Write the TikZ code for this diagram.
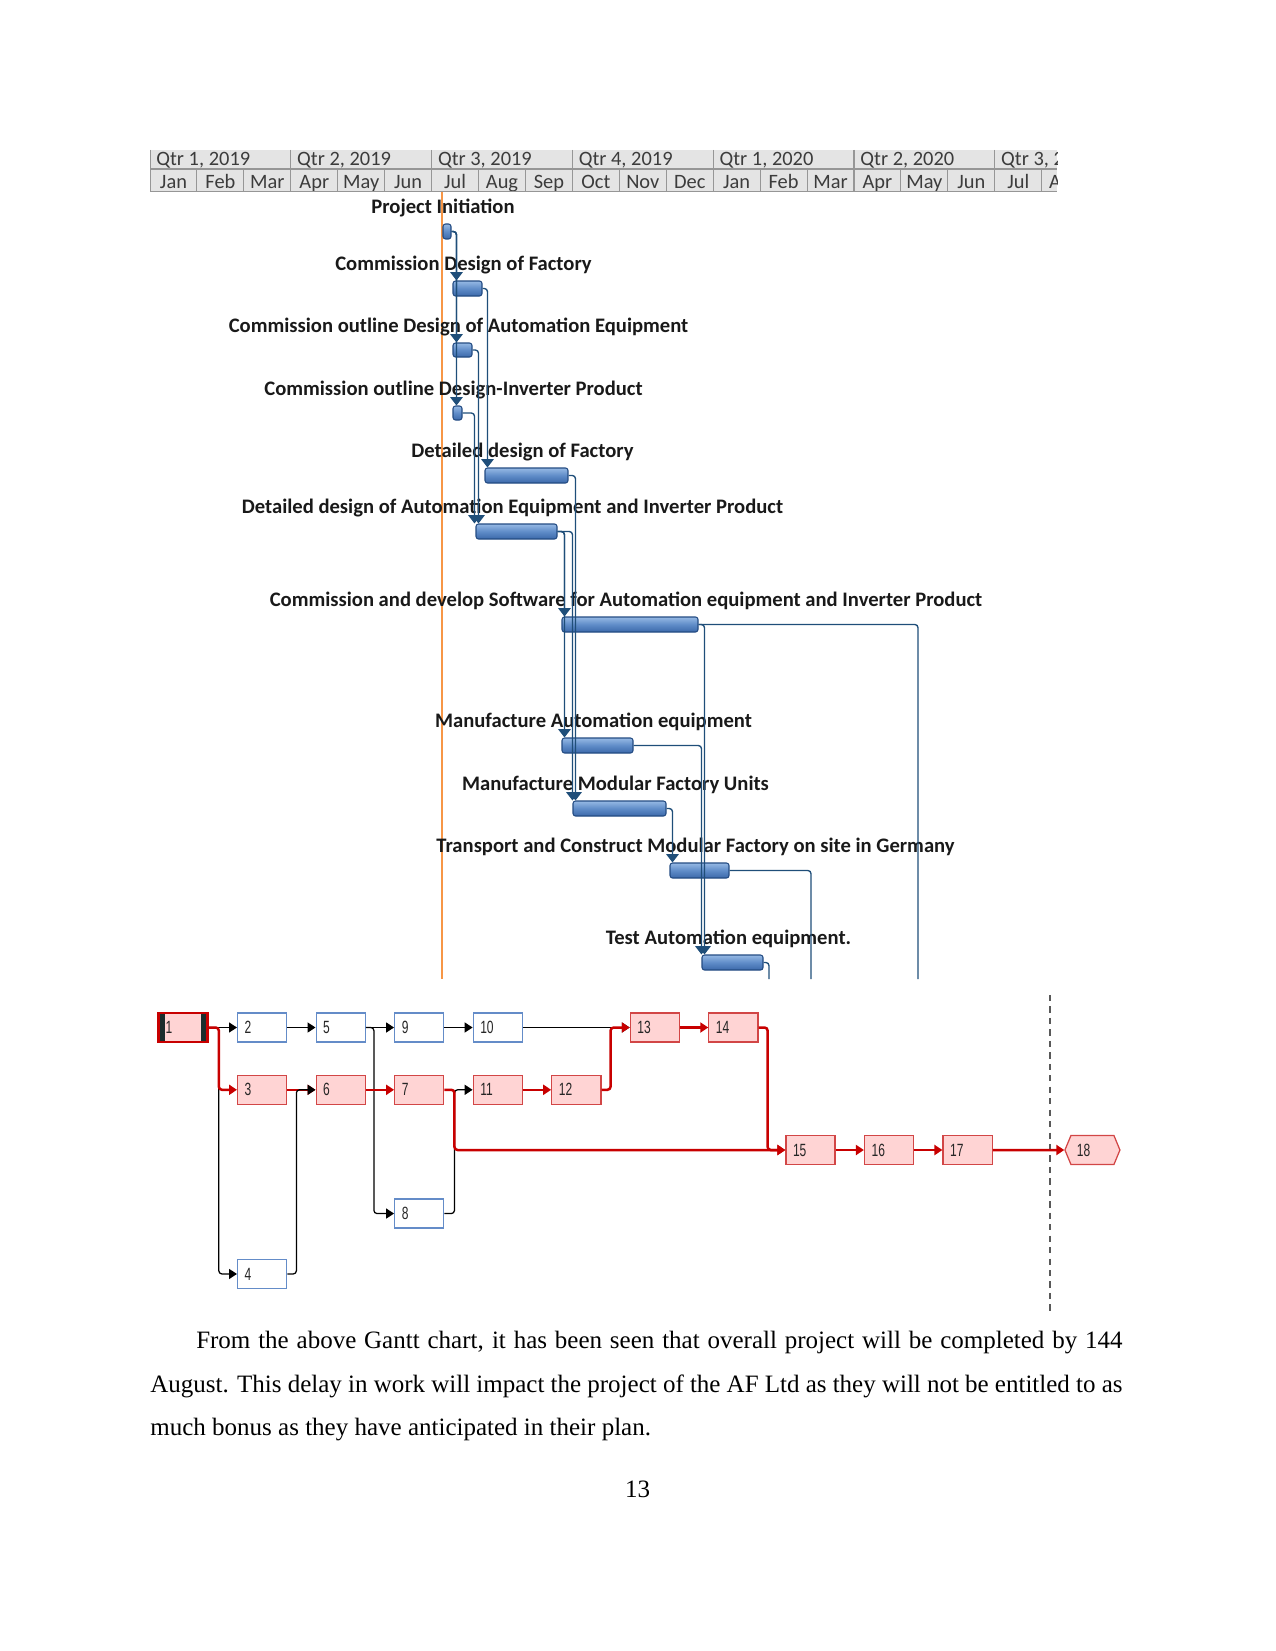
\documentclass[tikz,border=0pt]{standalone}
\usepackage{fontspec}
\setmainfont{Liberation Serif}
\newfontfamily\ganttfont{Carlito}
\newfontfamily\netfont[FakeStretch=0.68]{Liberation Sans}
\usetikzlibrary{arrows.meta, positioning, fit, calc, shapes.symbols}

\definecolor{hdrfill}{RGB}{228,228,228}
\definecolor{hdrline}{RGB}{150,150,150}
\definecolor{hdrtext}{RGB}{60,60,60}
\definecolor{bartop}{RGB}{150,185,228}
\definecolor{barmid}{RGB}{95,140,200}
\definecolor{barbot}{RGB}{60,105,170}
\definecolor{barrim}{RGB}{35,75,130}
\definecolor{linkblue}{RGB}{31,78,121}
\definecolor{todayorange}{RGB}{247,150,70}
\definecolor{critred}{RGB}{200,0,0}
\definecolor{critrim}{RGB}{210,70,70}
\definecolor{critfill}{RGB}{255,212,212}
\definecolor{netblue}{RGB}{100,140,200}
\definecolor{startdark}{RGB}{25,45,45}

\tikzset{
  hdrtxt/.style={font=\ganttfont\fontsize{9.8}{11}\selectfont, text=hdrtext, inner sep=0},
  hdrline/.style={draw=hdrline, line width=0.5pt},
  glabel/.style={font=\ganttfont\bfseries\fontsize{9.9}{11}\selectfont, text=black!90, inner sep=0},
  gbar/.style={
    draw=barrim, line width=0.5pt, rounded corners=1.2pt,
    top color=bartop, bottom color=barbot, middle color=barmid, inner sep=0
  },
  glink/.style={draw=linkblue, line width=0.65pt, rounded corners=1.5pt, -{Triangle[width=6pt,length=4pt]}},
  gcut/.style={draw=linkblue, line width=0.65pt, rounded corners=1.5pt},
  todayline/.style={draw=todayorange, line width=0.8pt},
  netbox/.style={
    draw=netblue, line width=0.6pt, fill=white,
    minimum height=13.9pt, text width=16.8pt, inner xsep=3.4pt, inner ysep=0,
    align=left, font=\netfont\fontsize{8.5}{9}\selectfont, text=black!85
  },
  critbox/.style={netbox, draw=critrim, fill=critfill},
  startbox/.style={
    critbox, draw=critred, line width=1.2pt,
    path picture={
      \fill[startdark] (path picture bounding box.north west) rectangle ([xshift=3pt]path picture bounding box.south west);
      \fill[startdark] (path picture bounding box.north east) rectangle ([xshift=-3pt]path picture bounding box.south east);
    }
  },
  endbox/.style={
    critbox, signal, signal to=west and east, signal pointer angle=135,
    minimum width=26.4pt, text width=15pt, inner xsep=2pt
  },
  narr/.style={draw=black, line width=0.6pt, rounded corners=1.5pt, -{Triangle[width=4.8pt,length=3.8pt]}},
  carr/.style={draw=critred, line width=1.2pt, rounded corners=1.5pt, -{Triangle[width=4.8pt,length=3.8pt]}},
  statusline/.style={draw=black!65, line width=0.6pt, dash pattern=on 3pt off 2.5pt},
  bodytext/.style={text width=466.6pt, align=justify, inner sep=0, font=\fontsize{12}{21}\selectfont},
}

\begin{document}
\begin{tikzpicture}[x=0.48pt, y=-0.48pt, node distance=15.4pt and 13.5pt]
  \useasboundingbox (0,0) rectangle (1275,1651);

  % Timescale header
  \fill[hdrfill] (150,150) rectangle (1057,192);
  \begin{scope}
    \clip (150,150) rectangle (1057,192);
    \foreach \lbl [count=\i from 0] in {{Qtr 1, 2019},{Qtr 2, 2019},{Qtr 3, 2019},{Qtr 4, 2019},{Qtr 1, 2020},{Qtr 2, 2020},{Qtr 3, 2020}} {
      \draw[hdrline] ({150+140.8*\i},150) -- ({150+140.8*\i},192);
      \node[hdrtxt, anchor=base west] (q\i) at ({156+140.8*\i},165.5) {\lbl};
    }
    \foreach \m [count=\i from 0] in {Jan,Feb,Mar,Apr,May,Jun,Jul,Aug,Sep,Oct,Nov,Dec,Jan,Feb,Mar,Apr,May,Jun,Jul,Aug} {
      \draw[hdrline] ({150+46.93*\i},169) -- ({150+46.93*\i},192);
      \node[hdrtxt, anchor=base] (m\i) at ({173.5+46.93*\i},189) {\m};
    }
    \draw[hdrline] (150,169) -- (1057,169);
    \draw[hdrline, line width=1pt] (150,192) -- (1057,192);
  \end{scope}

  % Current date
  \draw[todayline] (442,192) -- (442,979);

  % Task bars
  \node[gbar, fit={(443,224) (451,239)}] (init) {};
  \node[gbar, fit={(453,281) (482,296)}] (cdf) {};
  \node[gbar, fit={(453,343) (472,357)}] (coda) {};
  \node[gbar, fit={(453,406) (462,420)}] (codi) {};
  \node[gbar, fit={(485,468) (568,483)}] (ddf) {};
  \node[gbar, fit={(476,524) (557,539)}] (ddai) {};
  \node[gbar, fit={(562,617) (698,632)}] (soft) {};
  \node[gbar, fit={(562,738) (633,753)}] (mfa) {};
  \node[gbar, fit={(573,801) (666,816)}] (mfu) {};
  \node[gbar, fit={(670,863) (729,878)}] (tran) {};
  \node[gbar, fit={(702,955) (763,970)}] (test) {};

  % Task names above the bars
  \node[glabel, above=5pt of init.north, anchor=base, xshift=-1.92pt] (linit) {Project Initiation};
  \node[glabel, above=5pt of cdf.north, anchor=base, xshift=-1.92pt] (lcdf) {Commission Design of Factory};
  \node[glabel, above=5pt of coda.north, anchor=base, xshift=-1.92pt] (lcoda) {Commission outline Design of Automation Equipment};
  \node[glabel, above=5pt of codi.north, anchor=base, xshift=-1.92pt] (lcodi) {Commission outline Design-Inverter Product};
  \node[glabel, above=5pt of ddf.north, anchor=base, xshift=-1.92pt] (lddf) {Detailed design of Factory};
  \node[glabel, above=5pt of ddai.north, anchor=base, xshift=-1.92pt] (lddai) {Detailed design of Automation Equipment and Inverter Product};
  \node[glabel, above=5pt of soft.north, anchor=base, xshift=-1.92pt] (lsoft) {Commission and develop Software for Automation equipment and Inverter Product};
  \node[glabel, above=5pt of mfa.north, anchor=base, xshift=-1.92pt] (lmfa) {Manufacture Automation equipment};
  \node[glabel, above=5pt of mfu.north, anchor=base, xshift=-1.92pt] (lmfu) {Manufacture Modular Factory Units};
  \node[glabel, above=5pt of tran.north, anchor=base, xshift=-1.92pt] (ltran) {Transport and Construct Modular Factory on site in Germany};
  \node[glabel, above=5pt of test.north, anchor=base, xshift=-1.92pt] (ltest) {Test Automation equipment.};

  % Links between bars
  \draw[glink] (init.east) -| ($(cdf.north west)+(4,0)$);
  \draw[glink] (init.east) -| ($(coda.north west)+(4,0)$);
  \draw[glink] (init.east) -| ($(codi.north west)+(4,0)$);
  \draw[glink] (cdf.east) -| ($(ddf.north west)+(3,0)$);
  \draw[glink] (coda.east) -| ($(ddai.north west)+(3,0)$);
  \draw[glink] (codi.east) -| ($(ddai.north west)+(-1,0)$);
  \draw[glink] (ddai.east) -| ($(soft.north west)+(3,0)$);
  \draw[glink] (ddai.east) -| ($(mfa.north west)+(3,0)$);
  \draw[glink] (ddai.east) -| (mfu.north west);
  \draw[glink] (ddf.east) -| ($(mfu.north west)+(3,0)$);
  \draw[glink] (soft.east) -| ($(test.north west)+(3,0)$);
  \draw[glink] (mfa.east) -| (test.north west);
  \draw[glink] (mfu.east) -| ($(tran.north west)+(3,0)$);

  % Links running off the bottom of the chart
  \coordinate (softcut) at (918,979);
  \coordinate (trancut) at (811,979);
  \coordinate (testcut) at (769,979);
  \draw[gcut] (soft.east) -| (softcut);
  \draw[gcut] (tran.east) -| (trancut);
  \draw[gcut] (test.east) -| (testcut);

  % Network diagram
  \node[startbox] (n1) at (183,1027.5) {1};
  \node[netbox, right=of n1] (n2) {2};
  \node[netbox, right=of n2] (n5) {5};
  \node[netbox, right=of n5] (n9) {9};
  \node[netbox, right=of n9] (n10) {10};
  \node[critbox, right=51.2pt of n10] (n13) {13};
  \node[critbox, right=of n13] (n14) {14};
  \node[critbox, below=of n2] (n3) {3};
  \node[critbox, below=of n5] (n6) {6};
  \node[critbox, below=of n9] (n7) {7};
  \node[critbox, below=of n10] (n11) {11};
  \node[critbox, right=of n11] (n12) {12};
  \node[netbox, below=44.9pt of n7] (n8) {8};
  \node[netbox, below=73.9pt of n3] (n4) {4};
  \node[critbox] (n15) at (810.5,1150) {15};
  \node[critbox, right=of n15] (n16) {16};
  \node[critbox, right=of n16] (n17) {17};
  \node[endbox, right=34.3pt of n17] (n18) {18};

  % Status date
  \coordinate (stattop) at (1050,995);
  \coordinate (statbot) at (1050,1311);
  \draw[statusline] (stattop) -- (statbot);

  % Dependencies
  \draw[narr] (n1.east) -- ++(10,0) |- (n4.west);
  \draw[narr] (n1) -- (n2);
  \draw[carr] (n1.east) -- ++(10,0) |- (n3.west);
  \draw[narr] (n2) -- (n5);
  \draw[carr] (n3) -- (n6);
  \draw[narr] (n4.east) -- ++(9,0) |- (n6.west);
  \draw[narr] (n5) -- (n9);
  \draw[narr] (n5.east) -- ++(8,0) |- (n8.west);
  \draw[carr] (n6) -- (n7);
  \draw[narr] (n8.east) -- ++(10,0) |- (n11.west);
  \draw[carr] (n7.east) -- ++(10,0) |- (n15.west);
  \draw[narr] (n9) -- (n10);
  \draw[narr] (n10) -- (n13);
  \draw[carr] (n11) -- (n12);
  \draw[carr] (n12.east) -- ++(9,0) |- (n13.west);
  \draw[carr] (n13) -- (n14);
  \draw[carr] (n14.east) -- ++(9,0) |- (n15.west);
  \draw[carr] (n15) -- (n16);
  \draw[carr] (n16) -- (n17);
  \draw[carr] (n17) -- (n18);

  % Text below the figure
  \node[bodytext, anchor=north west] (para) at (150,1330.5)
    {\noindent\hspace*{22pt}From the above Gantt chart, it has been seen that overall project will be completed by 144\linebreak
     August. This delay in work will impact the project of the AF Ltd as they will not be entitled to as\linebreak
     much bonus as they have anticipated in their plan.};
  \node[font=\fontsize{12}{14}\selectfont, anchor=base] (pageno) at (637.5,1497.5) {13};
\end{tikzpicture}
\end{document}
